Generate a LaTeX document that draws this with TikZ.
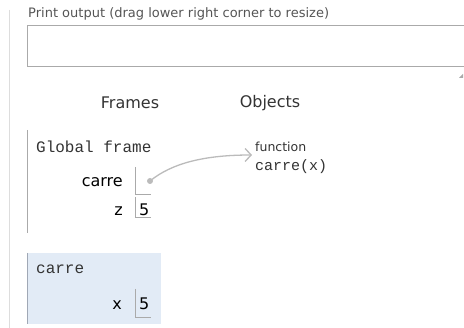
\documentclass[tikz,border=0pt]{standalone}
\usepackage{fontspec}
\setmainfont{DejaVu Sans}
\newfontfamily\codefont{Liberation Mono}
\usetikzlibrary{arrows.meta}

\definecolor{linegray}{HTML}{AAAAAA}
\definecolor{pagegray}{HTML}{DDDDDD}
\definecolor{framefill}{HTML}{E2EBF6}
\definecolor{frameedge}{HTML}{A0A8B5}
\definecolor{textgray}{HTML}{555555}
\definecolor{darktext}{HTML}{333333}

\tikzset{
  sans/.style={inner sep=0pt, font=\fontsize{16}{18}\selectfont},
  code/.style={inner sep=0pt, font=\codefont\fontsize{16}{18}\selectfont, text=darktext},
  varbox/.style={draw=linegray, line width=0.8pt},
  pointer/.style={draw=linegray!80, line width=1.3pt, -{Straight Barb[length=6pt,width=13pt]}}
}

\begin{document}
\begin{tikzpicture}[x=1pt,y=-1pt]
    \useasboundingbox (0,0) rectangle (464,328);
    % page rule and print output box
    \draw[pagegray, line width=1pt] (9,10) -- (9,328);
    \node[sans, anchor=base west, text=textgray, font=\fontsize{13}{15}\selectfont] (printlbl) at (28,18) {Print output (drag lower right corner to resize)};
    \draw[linegray, line width=1pt] (27,26) rectangle (480,67);
    \fill[linegray] (463,74) -- (463,78) -- (459,78) -- cycle;

    % headers
    \node[sans, text=darktext] (frames) at (130,103) {Frames};
    \node[sans, text=darktext] (objects) at (270,103) {Objects};

    % global frame
    \draw[linegray, line width=1pt] (27,130) -- (27,233);
    \node[code, anchor=west] (global) at (36,147) {Global frame};
    \node[sans, anchor=east] (carrelbl) at (123,182) {carre};
    \draw[varbox] (135,167) -- (135,194) -- (151,194);
    \node[sans, anchor=east] (zlbl) at (123,211) {z};
    \draw[varbox] (135,197) -- (135,217) -- (151,217);
    \node[sans, anchor=west] (zval) at (139,210) {5};

    % function object
    \node[anchor=west, inner sep=0pt, font=\fontsize{12.5}{14}\selectfont, text=darktext] (functxt) at (255,147) {function};
    \node[code, anchor=west, font=\codefont\fontsize{15}{17}\selectfont] (funcname) at (255,167) {carre(x)};
    \coordinate (carreptr) at (150,181);
    \fill[linegray!80] (carreptr) circle (3);
    \draw[pointer] (carreptr) .. controls (172,163) and (205,155) .. ([xshift=-3pt,yshift=-8pt]functxt.west);

    % frame of carre
    \fill[framefill] (27,253) rectangle (161,324);
    \draw[frameedge, line width=1pt] (27.5,253) -- (27.5,324);
    \node[code, anchor=west] (carreframe) at (36,269) {carre};
    \node[sans, anchor=east] (xlbl) at (122,305) {x};
    \draw[varbox] (135,289) -- (135,317) -- (151,317);
    \node[sans, anchor=west] (xval) at (139,304) {5};
\end{tikzpicture}
\end{document}
